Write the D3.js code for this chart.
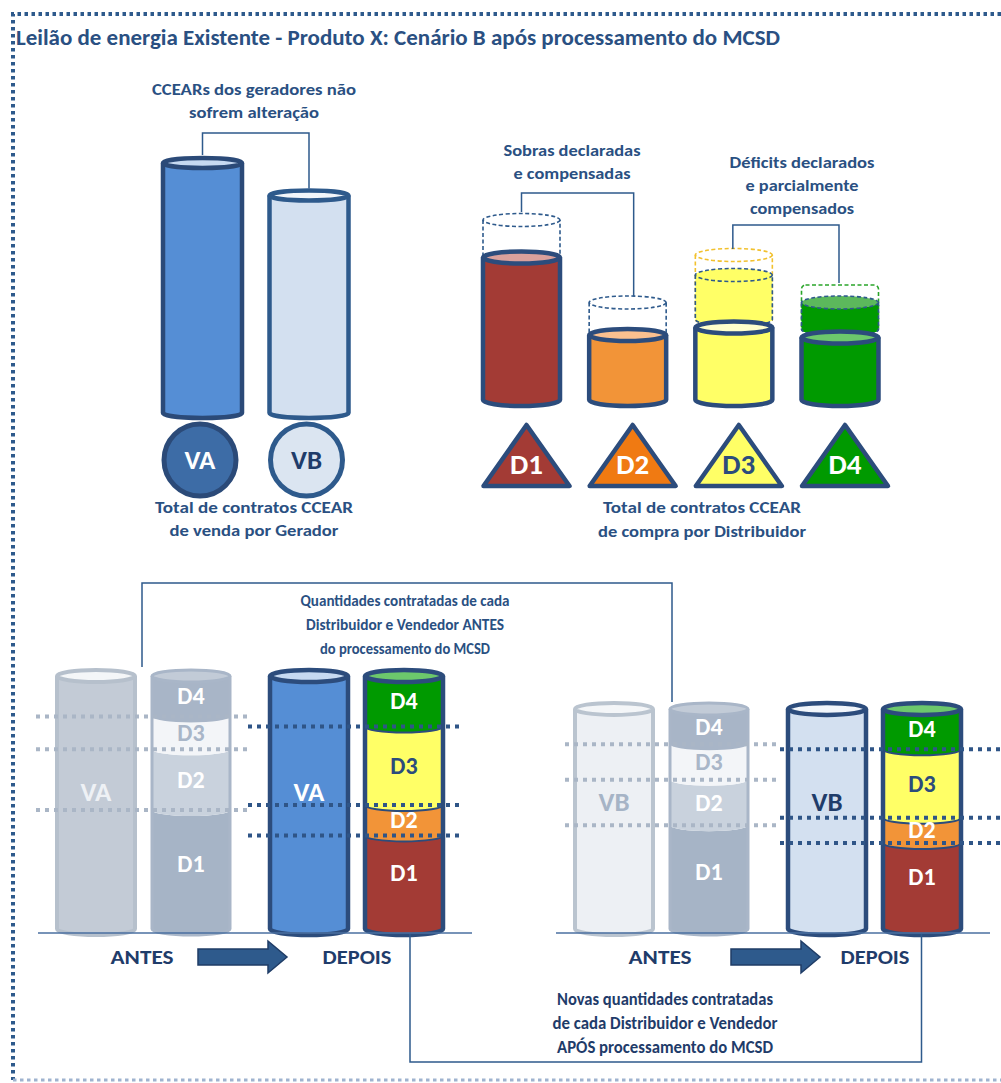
<!DOCTYPE html>
<html><head><meta charset="utf-8">
<script src="https://cdn.jsdelivr.net/npm/d3@7"></script>
<style>
body{margin:0;background:#fff}
svg{display:block}
text{font-family:Carlito,Calibri,Lato,"Open Sans",sans-serif;font-weight:bold}
</style>
</head><body>
<svg id="c" width="1001" height="1083"></svg>
<script>
// ---------------- DATA ----------------
const titleText = "Leilão de energia Existente - Produto X: Cenário B após processamento do MCSD";
const generators = ["VA", "VB"];
const generatorTotals = [100, 87];              // total CCEAR sale contracts per generator
const distributors = ["D1", "D2", "D3", "D4"];
const contractsBefore = [72, 39, 29, 25];       // purchase contracts before MCSD
const contractsDeclared = [57, 26, 58, 46];     // declared level (surplus / deficit)
const contractsAfter = [57, 26, 50, 39];        // after compensation
const stackAntesVA = [47, 24, 13, 16];          // VA split D1..D4 before
const stackDepoisVA = [37, 12, 31, 20];         // VA split D1..D4 after
const stackAntesVB = [41, 18, 14, 14];          // VB split before
const stackDepoisVB = [34, 10, 27, 16];         // VB split after
const noteGen = ["CCEARs dos  geradores não", "sofrem alteração"];
const noteGenBottom = ["Total de  contratos  CCEAR", "de venda por Gerador"];
const noteSobras = ["Sobras declaradas", "e compensadas"];
const noteDeficit = ["Déficits declarados", "e parcialmente", "compensados"];
const noteDistBottom = ["Total de   contratos  CCEAR", "de compra  por  Distribuidor"];
const noteAntes = ["Quantidades contratadas de cada", "Distribuidor e Vendedor  ANTES", "do processamento do MCSD"];
const noteApos = ["Novas quantidades  contratadas", "de cada Distribuidor  e Vendedor", "APÓS processamento  do MCSD"];
const phaseLabels = ["ANTES", "DEPOIS"];

// ---------------- STYLE ----------------
const TXT = "#2a5082", DARK = "#2c4c7c", LINE = "#2e5a8c";
const distFill = ["#a33b35", "#f29438", "#ffff66", "#009a00"];
const distLid = ["#d9a09c", "#fbc08f", "#ffffcc", "#6cc86c"];
const triFill = ["#a33b35", "#f07a12", "#ffff66", "#009a00"];
const triText = ["#fff", "#fff", DARK, "#fff"];
const ghostFill = ["#a6b4c6", "#c9d2dd", "#f3f5f8", "#a8b5c7"];
const stackText = ["#fff", "#fff", DARK, "#fff"];

const svg = d3.select("#c");

function txt(g, s, x, y, size, width, color, anchor) {
  const t = g.append("text").attr("x", x).attr("y", y).attr("font-size", size)
    .attr("fill", color || TXT).attr("text-anchor", anchor || "middle").text(s);
  if (width) t.attr("textLength", width).attr("lengthAdjust", "spacingAndGlyphs");
  return t;
}
function bodyPath(cx, yT, yB, rx, ry, close) {
  const l = cx - rx, r = cx + rx;
  return `M${l},${yT}L${l},${yB}A${rx},${ry} 0 0 0 ${r},${yB}L${r},${yT}` + (close ? "Z" : "");
}
function bandPath(cx, yT, yB, rx, ry) {
  const l = cx - rx, r = cx + rx;
  return `M${l},${yT}A${rx},${ry} 0 0 0 ${r},${yT}L${r},${yB}A${rx},${ry} 0 0 1 ${l},${yB}Z`;
}
function arcPath(cx, y, rx, ry) {
  return `M${cx - rx},${y}A${rx},${ry} 0 0 0 ${cx + rx},${y}`;
}
function cyl(g, cx, yT, yB, o) {
  const rx = o.rx || 39, ry = o.ry || 6;
  if (o.fill) g.append("path").attr("d", bodyPath(cx, yT, yB, rx, ry, true)).attr("fill", o.fill);
  if (o.stroke) g.append("path").attr("d", bodyPath(cx, yT, yB, rx, ry, false)).attr("fill", "none")
    .attr("stroke", o.stroke).attr("stroke-width", o.sw).attr("stroke-dasharray", o.dash || null)
    .attr("stroke-linejoin", "round");
  if (o.lid !== false) g.append("ellipse").attr("cx", cx).attr("cy", yT).attr("rx", rx).attr("ry", ry)
    .attr("fill", o.lidFill || o.fill || "none").attr("stroke", o.lidStroke || o.stroke || "none")
    .attr("stroke-width", o.sw).attr("stroke-dasharray", o.dash || null);
}

// ---------------- FRAME + TITLE ----------------
svg.append("path").attr("d", "M1001,14L13,14L13,1080").attr("fill", "none")
  .attr("stroke", LINE).attr("stroke-width", 4).attr("stroke-dasharray", "3.5,3.5");
svg.append("path").attr("d", "M13,1080L1001,1080").attr("fill", "none")
  .attr("stroke", "#9fb3cf").attr("stroke-width", 3).attr("stroke-dasharray", "3.5,3.5");
txt(svg, titleText, 16, 45, 21.5, 764, TXT, "start");

// ---------------- TOP LEFT: generators ----------------
const gTL = svg.append("g");
const yTL = d3.scaleLinear().domain([0, 100]).range([413, 163]);
const xGen = d3.scalePoint().domain(generators).range([202.5, 309]);
const genFill = ["#558ed5", "#d3e0f0"], genStroke = ["#2b4a78", "#2e5a8c"], genLid = ["#c6d9f1", "#f2f6fb"];
const circFill = ["#3d6ca6", "#dbe5f1"], circText = ["#fff", "#1f3c6a"];

noteGen.forEach((s, i) => txt(gTL, s, 254, 95 + i * 23, 16.5, [204, 130][i]));
gTL.append("path").attr("d", `M${xGen("VA")},${yTL(generatorTotals[0]) - 8}V133H${xGen("VB")}V${yTL(generatorTotals[1]) - 7}`)
  .attr("fill", "none").attr("stroke", LINE).attr("stroke-width", 1.5);
generators.forEach((gname, i) => {
  cyl(gTL, xGen(gname), yTL(generatorTotals[i]), yTL(0), {
    rx: 39.5, ry: 5, fill: genFill[i], stroke: genStroke[i], sw: 4.5, lidFill: genLid[i]
  });
  gTL.append("circle").attr("cx", xGen(gname) - 2.5).attr("cy", 460).attr("r", 36)
    .attr("fill", circFill[i]).attr("stroke", genStroke[i]).attr("stroke-width", 5);
  txt(gTL, gname, xGen(gname) - 2.5, 469, 27, null, circText[i]);
});
noteGenBottom.forEach((s, i) => txt(gTL, s, 254, 513 + i * 23, 16.5, [198, 169][i]));

// ---------------- TOP RIGHT: distributors ----------------
const gTR = svg.append("g");
const yTR = d3.scaleLinear().domain([0, 100]).range([400, 150]);
const xDist = d3.scalePoint().domain(distributors).range([521.5, 840]);
const rxD = 38.5;

distributors.forEach((d, i) => {
  const cx = xDist(d);
  const solid = Math.min(contractsBefore[i], contractsAfter[i]);
  const outlineTop = Math.max(contractsBefore[i], contractsDeclared[i]);
  const ySolid = yTR(solid);
  const deficit = contractsAfter[i] > contractsBefore[i];
  const gap = deficit ? 8 : 2;
  if (outlineTop > solid) {
    const col = deficit ? (i === 2 ? "#f2c12e" : "#2aa52a") : LINE;
    if (deficit && i === 3) {
      gTR.append("rect").attr("x", cx - rxD).attr("y", yTR(outlineTop)).attr("width", rxD * 2)
        .attr("height", ySolid - gap + 2 - yTR(outlineTop)).attr("rx", 4)
        .attr("fill", "none").attr("stroke", col).attr("stroke-width", 1.6).attr("stroke-dasharray", "4,2.5");
    } else {
      cyl(gTR, cx, yTR(outlineTop), ySolid - gap, { rx: rxD, ry: 6.5, fill: null, stroke: col, sw: 1.6, dash: "4,2.5", lidFill: "none" });
    }
  }
  if (deficit) {
    const yT = yTR(contractsAfter[i]), yB = ySolid - gap;
    gTR.append("path").attr("d", bodyPath(cx, yT, yB, rxD, 6.5, true)).attr("fill", distFill[i]);
    gTR.append("path").attr("d", bodyPath(cx, yT, yB, rxD, 6.5, false)).attr("fill", "none")
      .attr("stroke", LINE).attr("stroke-width", 1.6).attr("stroke-dasharray", "4,2.5");
    gTR.append("ellipse").attr("cx", cx).attr("cy", yT).attr("rx", rxD).attr("ry", 6.5)
      .attr("fill", i === 3 ? "#5cb85c" : distFill[i]).attr("stroke", LINE).attr("stroke-width", 1.6).attr("stroke-dasharray", "4,2.5");
  }
  cyl(gTR, cx, ySolid, yTR(0), { rx: rxD, ry: 6, fill: distFill[i], stroke: DARK, sw: 4.5, lidFill: distLid[i] });
  const tx = cx + 5;
  gTR.append("path").attr("d", `M${tx},425L${tx + 43},486L${tx - 43},486Z`)
    .attr("fill", triFill[i]).attr("stroke", DARK).attr("stroke-width", 4.5).attr("stroke-linejoin", "round");
  txt(gTR, d, tx, 474, 29, null, triText[i]);
});
gTR.append("path").attr("d", `M${xDist("D1")},${yTR(contractsBefore[0]) - 8}V193H${xDist("D2") + 6}V${yTR(contractsBefore[1]) - 6}`)
  .attr("fill", "none").attr("stroke", LINE).attr("stroke-width", 1.5);
gTR.append("path").attr("d", `M${xDist("D3") - 1},${yTR(contractsDeclared[2]) - 6}V225H${xDist("D4") - 1}V${yTR(contractsDeclared[3]) - 2}`)
  .attr("fill", "none").attr("stroke", LINE).attr("stroke-width", 1.5);
noteSobras.forEach((s, i) => txt(gTR, s, 572, 156 + i * 23, 16.5, [137, 117][i]));
noteDeficit.forEach((s, i) => txt(gTR, s, 802, 168 + i * 23, 16.5, [145, 113, 104][i]));
noteDistBottom.forEach((s, i) => txt(gTR, s, 702, 513 + i * 24, 16.5, [198, 208][i]));

// ---------------- BOTTOM: before / after ----------------
const gB = svg.append("g");
const yB = d3.scaleLinear().domain([0, 100]).range([929, 676]);
const xGroup = d3.scaleOrdinal(generators, [0, 518]);
const xCol = d3.scaleOrdinal(["ghostGen", "ghostStack", "gen", "stack"], [96, 191, 309, 404]);
const groups = [
  { gen: "VA", total: generatorTotals[0], antes: stackAntesVA, depois: stackDepoisVA, labelFrac: 0.54,
    ghostGenFill: "#c3cbd6", ghostGenStroke: "#b6c0cc", ghostGenText: "#eef1f5",
    genFill: "#558ed5", genLid: "#c6d9f1", genText: "#fff", arrowX: 198,
    grayDots: [36, 247], darkDots: [248, 461] },
  { gen: "VB", total: generatorTotals[1], antes: stackAntesVB, depois: stackDepoisVB, labelFrac: 0.575,
    ghostGenFill: "#edf0f4", ghostGenStroke: "#bac4cf", ghostGenText: "#a6b4c6",
    genFill: "#d3e0f0", genLid: "#f2f6fb", genText: "#1f3c6a", arrowX: 731,
    grayDots: [565, 777], darkDots: [780, 1001] }
];
const rxB = 39, ryB = 6;

function cumul(arr) { let s = 0; return arr.map(v => [s, s += v]); }

groups.forEach(G => {
  const ox = xGroup(G.gen);
  cyl(gB, ox + xCol("ghostGen"), yB(G.total), yB(0), { rx: rxB, ry: ryB, fill: G.ghostGenFill, stroke: G.ghostGenStroke, sw: 4, lidFill: "#f4f6f8" });
  txt(gB, G.gen, ox + xCol("ghostGen"), yB(G.total * G.labelFrac) + 9, 27, null, G.ghostGenText);
  const cxS0 = ox + xCol("ghostStack");
  const segA = cumul(G.antes);
  segA.forEach(([a, b], k) => {
    gB.append("path").attr("d", bandPath(cxS0, yB(b), yB(a), rxB, ryB)).attr("fill", ghostFill[k]);
  });
  gB.append("path").attr("d", bodyPath(cxS0, yB(G.total), yB(0), rxB, ryB, false)).attr("fill", "none")
    .attr("stroke", "#a9b6c8").attr("stroke-width", 3);
  gB.append("ellipse").attr("cx", cxS0).attr("cy", yB(G.total)).attr("rx", rxB).attr("ry", ryB)
    .attr("fill", "#c2cbd7").attr("stroke", "#a9b6c8").attr("stroke-width", 3);
  segA.forEach(([a, b], k) => {
    const yc = k === 0 ? yB(b) + (yB(a) - yB(b)) * 0.45 : (yB(a) + yB(b)) / 2;
    txt(gB, distributors[k], cxS0, yc + 8, 24, null, k === 2 ? "#a9b6c8" : "#fff");
  });
  segA.slice(0, 3).forEach(([a, b]) => {
    gB.append("line").attr("x1", G.grayDots[0]).attr("x2", G.grayDots[1]).attr("y1", yB(b)).attr("y2", yB(b))
      .attr("stroke", "#aab6c6").attr("stroke-width", 4).attr("stroke-dasharray", "4,5");
  });

  const cxG = ox + xCol("gen");
  cyl(gB, cxG, yB(G.total), yB(0), { rx: rxB, ry: ryB, fill: G.genFill, stroke: DARK, sw: 4.5, lidFill: G.genLid });
  txt(gB, G.gen, cxG, yB(G.total * G.labelFrac) + 9, 27, null, G.genText);
  const cxS = ox + xCol("stack");
  const segD = cumul(G.depois);
  segD.forEach(([a, b], k) => {
    gB.append("path").attr("d", bandPath(cxS, yB(b), yB(a), rxB, ryB)).attr("fill", distFill[k]);
  });
  segD.slice(0, 3).forEach(([a, b]) => {
    gB.append("path").attr("d", arcPath(cxS, yB(b), rxB, ryB)).attr("fill", "none").attr("stroke", DARK).attr("stroke-width", 2);
  });
  cyl(gB, cxS, yB(G.total), yB(0), { rx: rxB, ry: ryB, fill: null, stroke: DARK, sw: 4.5, lidFill: distLid[3] });
  segD.forEach(([a, b], k) => {
    const yc = k === 0 ? yB(b) + (yB(a) - yB(b)) * 0.4 : (yB(a) + yB(b)) / 2;
    txt(gB, distributors[k], cxS, yc + 8, 24, null, stackText[k]);
  });
  segD.slice(0, 3).forEach(([a, b]) => {
    gB.append("line").attr("x1", G.darkDots[0]).attr("x2", G.darkDots[1]).attr("y1", yB(b)).attr("y2", yB(b))
      .attr("stroke", "#2f5587").attr("stroke-width", 4).attr("stroke-dasharray", "4,5");
  });

  gB.append("line").attr("x1", ox + 38).attr("x2", ox + 472).attr("y1", 933).attr("y2", 933)
    .attr("stroke", "#4a6fa0").attr("stroke-width", 1.5);
  txt(gB, phaseLabels[0], ox + 142, 964, 21, 63, "#1f3c6a");
  txt(gB, phaseLabels[1], ox + 357, 964, 21, 69, "#1f3c6a");
  const ax = G.arrowX;
  gB.append("path").attr("d", `M${ax},949H${ax + 70}V941L${ax + 89},957L${ax + 70},973V965H${ax}Z`)
    .attr("fill", "#2e5a8c").attr("stroke", "#1f3c66").attr("stroke-width", 1.5);
});

gB.append("path").attr("d", `M142,667V583H672V702`).attr("fill", "none").attr("stroke", LINE).attr("stroke-width", 1.5);
noteAntes.forEach((s, i) => txt(gB, s, 405, 606 + i * 24, 16.5, [209, 198, 170][i]));
gB.append("path").attr("d", `M${xCol("stack") + 6},934V1062H${xGroup("VB") + xCol("stack") - 0.5}V934`)
  .attr("fill", "none").attr("stroke", LINE).attr("stroke-width", 1.5);
noteApos.forEach((s, i) => txt(gB, s, 665, 1005 + i * 24, 17, [216, 225, 216][i], "#1f3c6a"));
</script>
</body></html>
